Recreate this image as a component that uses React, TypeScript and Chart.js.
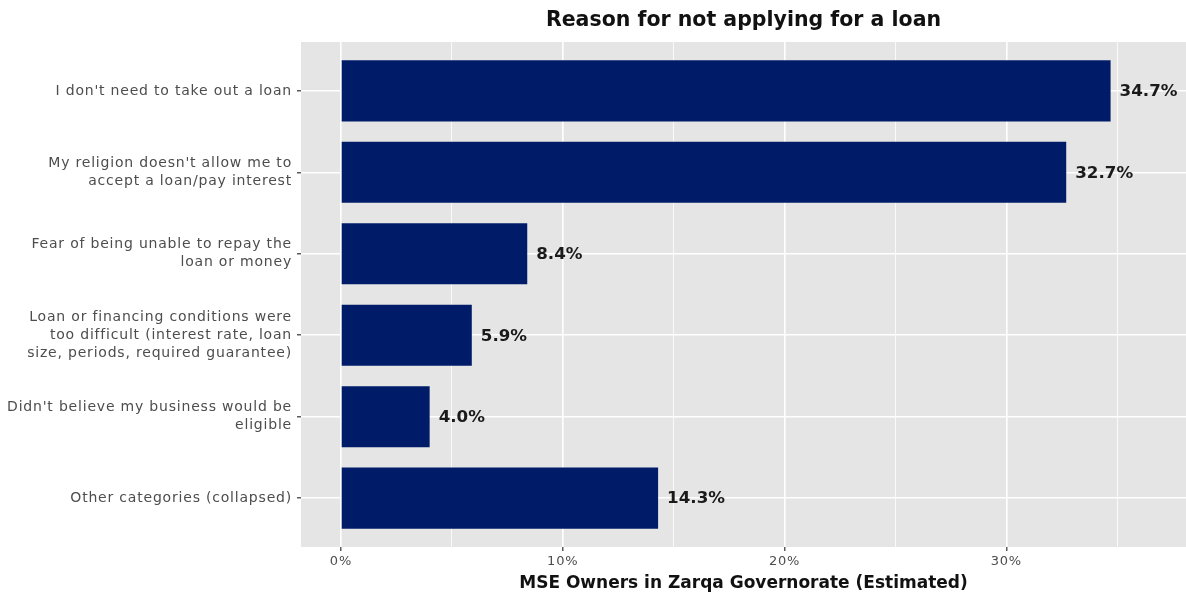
import React, { useEffect, useRef } from "react";
import { Chart, registerables } from "chart.js";

Chart.register(...registerables);

const categories: (string | string[])[] = [
  "I don't need to take out a loan",
  ["My religion doesn't allow me to", "accept a loan/pay interest"],
  ["Fear of being unable to repay the", "loan or money"],
  ["Loan or financing conditions were", "too difficult (interest rate, loan", "size, periods, required guarantee)"],
  ["Didn't believe my business would be", "eligible"],
  "Other categories (collapsed)",
];
const values: number[] = [34.7, 32.7, 8.4, 5.9, 4.0, 14.3];
const xMajorTicks: number[] = [0, 10, 20, 30];
const xMinorTicks: number[] = [5, 15, 25, 35];

const TITLE = "Reason for not applying for a loan";
const X_TITLE = "MSE Owners in Zarqa Governorate (Estimated)";
const FONT = "'DejaVu Sans', 'Noto Sans', sans-serif";

export default function App() {
  const ref = useRef<HTMLCanvasElement | null>(null);

  useEffect(() => {
    document.body.style.margin = "0";
    const canvas = ref.current;
    if (!canvas) return;

    const panelBg = {
      id: "panelBg",
      beforeDraw(chart: any) {
        const { ctx, chartArea } = chart;
        (ctx as any).letterSpacing = "0.8px";
        ctx.save();
        ctx.fillStyle = "#E5E5E5";
        ctx.fillRect(chartArea.left, chartArea.top, chartArea.right - chartArea.left, chartArea.bottom - chartArea.top);
        ctx.restore();
      },
    };

    const titlePlugin = {
      id: "ggTitles",
      afterDraw(chart: any) {
        const { ctx, chartArea } = chart;
        const cx = (chartArea.left + chartArea.right) / 2;
        ctx.save();
        (ctx as any).letterSpacing = "0px";
        ctx.fillStyle = "#111111";
        ctx.textAlign = "center";
        ctx.textBaseline = "middle";
        ctx.font = `bold 20.5px ${FONT}`;
        ctx.fillText(TITLE, cx, 21);
        ctx.font = `bold 17px ${FONT}`;
        ctx.fillText(X_TITLE, cx, 584);
        ctx.restore();
      },
    };

    const valueLabels = {
      id: "valueLabels",
      afterDatasetsDraw(chart: any) {
        const { ctx } = chart;
        const meta = chart.getDatasetMeta(0);
        ctx.save();
        (ctx as any).letterSpacing = "0px";
        ctx.font = `bold 16.7px ${FONT}`;
        ctx.fillStyle = "#1a1a1a";
        ctx.textAlign = "left";
        ctx.textBaseline = "middle";
        meta.data.forEach((el: any, i: number) => {
          ctx.fillText(values[i].toFixed(1) + "%", el.x + 9, el.y + 1);
        });
        ctx.restore();
      },
    };

    const chart = new Chart(canvas, {
      type: "bar",
      data: {
        datasets: [
          {
            data: values.map((v, i) => ({ x: v, y: i + 1 })),
            backgroundColor: "#001C69",
            borderWidth: 0,
            barPercentage: 0.75,
            categoryPercentage: 1,
          },
        ],
      },
      options: {
        indexAxis: "y",
        responsive: false,
        animation: false,
        layout: { padding: { top: 42, left: 0, right: 0, bottom: 0 } },
        plugins: {
          legend: { display: false },
          title: { display: false },
          tooltip: { enabled: false },
        },
        scales: {
          x: {
            type: "linear",
            min: -1.8,
            max: 38.1,
            border: { display: false },
            afterBuildTicks(scale: any) {
              scale.ticks = [...xMajorTicks, ...xMinorTicks].sort((a, b) => a - b).map((v) => ({ value: v }));
            },
            afterFit(scale: any) {
              scale.height = 49;
            },
            grid: {
              color: "#FFFFFF",
              lineWidth: (c: any) => (c.tick && xMajorTicks.includes(c.tick.value) ? 1.6 : 0.8),
              tickColor: (c: any) => (c.tick && xMajorTicks.includes(c.tick.value) ? "#333333" : "rgba(0,0,0,0)"),
              tickLength: 4,
              tickWidth: 1.2,
            },
            ticks: {
              padding: 3,
              color: "#4D4D4D",
              font: { family: FONT, size: 13 },
              maxRotation: 0,
              autoSkip: false,
              callback: (v: any) => (xMajorTicks.includes(Number(v)) ? `${v}%` : ""),
            },
          },
          y: {
            type: "linear",
            min: 0.4,
            max: 6.6,
            reverse: true,
            offset: false,
            border: { display: false },
            afterBuildTicks(scale: any) {
              scale.ticks = categories.map((_, i) => ({ value: i + 1 }));
            },
            afterFit(scale: any) {
              scale.width = 301;
            },
            grid: {
              offset: false,
              color: "#FFFFFF",
              lineWidth: 1.6,
              tickColor: "#333333",
              tickLength: 4,
              tickWidth: 1.2,
            },
            ticks: {
              padding: 5,
              color: "#4D4D4D",
              font: { family: FONT, size: 14, lineHeight: 1.29 },
              autoSkip: false,
              callback: (v: any) => categories[Number(v) - 1] as any,
            },
          },
        },
      },
      plugins: [panelBg, titlePlugin, valueLabels],
    } as any);

    return () => chart.destroy();
  }, []);

  return (
    <div style={{ width: 1186, height: 596 }}>
      <canvas ref={ref} width={1186} height={596} style={{ display: "block" }} />
    </div>
  );
}
